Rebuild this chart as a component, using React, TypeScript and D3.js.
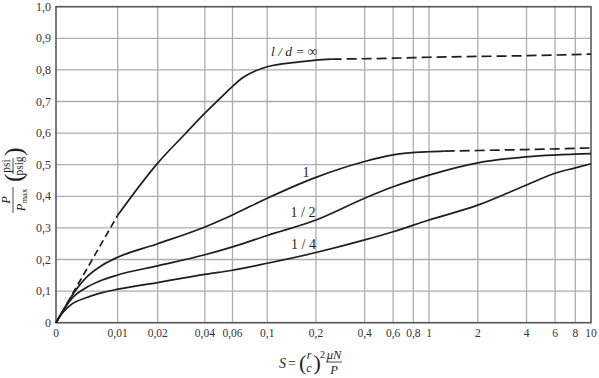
import React from "react";
import * as d3 from "d3";

// ---------- data ----------
const yTicks = [0, 0.1, 0.2, 0.3, 0.4, 0.5, 0.6, 0.7, 0.8, 0.9, 1.0];
const xTicks = [0, 0.01, 0.02, 0.04, 0.06, 0.1, 0.2, 0.4, 0.6, 0.8, 1, 2, 4, 6, 8, 10];

// l/d = infinity
const infDashStart: [number, number][] = [[0, 0], [0.005, 0.17], [0.01, 0.34]];
const infSolid: [number, number][] = [
  [0.01, 0.34], [0.02, 0.505], [0.03, 0.598], [0.04, 0.663], [0.05, 0.71], [0.06, 0.748],
  [0.07, 0.776], [0.083, 0.796], [0.1, 0.81], [0.15, 0.824], [0.2, 0.831], [0.25, 0.834],
];
const infDashEnd: [number, number][] = [[0.25, 0.834], [0.6, 0.837], [1, 0.84], [4, 0.845], [10, 0.85]];

// l/d = 1
const oneSolid: [number, number][] = [
  [0, 0], [0.001, 0.034], [0.0025, 0.083], [0.005, 0.145], [0.0075, 0.182], [0.01, 0.207],
  [0.02, 0.25], [0.04, 0.303], [0.06, 0.341], [0.1, 0.394], [0.2, 0.46], [0.4, 0.51],
  [0.6, 0.531], [1, 0.541], [1.25, 0.543],
];
const oneDash: [number, number][] = [[1.25, 0.543], [2, 0.545], [4, 0.548], [10, 0.553]];

// l/d = 1/2
const halfSolid: [number, number][] = [
  [0, 0], [0.001, 0.033], [0.0025, 0.075], [0.005, 0.112], [0.0075, 0.135], [0.01, 0.151],
  [0.02, 0.18], [0.04, 0.215], [0.06, 0.24], [0.1, 0.276], [0.2, 0.325], [0.4, 0.394],
  [0.6, 0.43], [1, 0.467], [2, 0.506], [4, 0.525], [10, 0.535],
];

// l/d = 1/4
const quarterSolid: [number, number][] = [
  [0, 0], [0.001, 0.03], [0.0025, 0.058], [0.005, 0.08], [0.0075, 0.095], [0.01, 0.106],
  [0.02, 0.127], [0.04, 0.153], [0.06, 0.166], [0.1, 0.188], [0.2, 0.222], [0.4, 0.262],
  [0.6, 0.288], [1, 0.325], [2, 0.372], [4, 0.436], [6, 0.473], [8, 0.49], [10, 0.503],
];

// ---------- layout ----------
const W = 599;
const H = 378;
const L = 56, R = 591, T = 6.7, B = 322.7;
const PW = R - L;
const logAnchors = [0.01, 0.02, 0.1, 1, 10];
const logAnchorFrac = [0.1153, 0.1901, 0.3949, 0.6972, 1];

const xLog = d3.scaleLog().domain(logAnchors).range(logAnchorFrac.map((f) => L + f * PW));
const xLin = d3.scaleLinear().domain([0, 0.01]).range([L, xLog(0.01)]);
const x = (v: number) => (v < 0.01 ? xLin(v) : xLog(v));
const y = d3.scaleLinear().domain([0, 1]).range([B, T]);

const line = d3
  .line<[number, number]>()
  .x((d) => x(d[0]))
  .y((d) => y(d[1]))
  .curve(d3.curveMonotoneX);

const fmt = (v: number) => (v === 0 ? "0" : String(v).replace(".", ","));
const fmtY = (v: number) => (v === 0 ? "0" : v.toFixed(1).replace(".", ","));

const SERIF = '"Liberation Serif", "DejaVu Serif", "Times New Roman", serif';
const INK = "#1e1e1e";

export default function App() {
  return (
    <svg width={W} height={H} style={{ position: "absolute", left: 0, top: 0, background: "#fff" }}>
      <style>{`text { font-family: ${SERIF}; }`}</style>
      <rect x={0} y={0} width={W} height={H} fill="#fff" />
      {/* grid */}
      {yTicks.map((t) => (
        <line key={"gy" + t} x1={L} x2={R} y1={y(t)} y2={y(t)} stroke="#adadad" strokeWidth={1.3} />
      ))}
      {xTicks.filter((t) => t > 0 && t < 10).map((t) => (
        <line key={"gx" + t} x1={x(t)} x2={x(t)} y1={T} y2={B} stroke="#adadad" strokeWidth={1.3} />
      ))}
      {/* frame */}
      <rect x={L} y={T} width={PW} height={B - T} fill="none" stroke="#5a5a5a" strokeWidth={1.6} />

      {/* y tick labels */}
      {yTicks.map((t) => (
        <text key={"ly" + t} x={51} y={y(t) + 4} textAnchor="end" fontSize={12} fill="#333">
          {fmtY(t)}
        </text>
      ))}
      {/* x tick labels */}
      {xTicks.map((t) => (
        <text key={"lx" + t} x={x(t)} y={337} textAnchor="middle" fontSize={11.5} fill="#333">
          {fmt(t)}
        </text>
      ))}

      {/* curves */}
      <g fill="none" stroke={INK} strokeWidth={1.7} strokeLinecap="butt">
        <path d={line(infDashStart) || ""} strokeDasharray="7,4" />
        <path d={line(infSolid) || ""} />
        <path d={line(infDashEnd) || ""} strokeDasharray="10,5" />
        <path d={line(oneSolid) || ""} />
        <path d={line(oneDash) || ""} strokeDasharray="10,5" />
        <path d={line(halfSolid) || ""} />
        <path d={line(quarterSolid) || ""} />
      </g>

      {/* curve labels */}
      <text x={271} y={56} fontSize={13.5} fontStyle="italic" fill={INK}>
        l / d = ∞
      </text>
      <text x={306} y={177} fontSize={14} textAnchor="middle" fill={INK}>1</text>
      <text x={303} y={216.5} fontSize={14} textAnchor="middle" fill={INK}>1 / 2</text>
      <text x={303.5} y={248.5} fontSize={14} textAnchor="middle" fill={INK}>1 / 4</text>

      {/* x axis title */}
      <g fill={INK}>
        <text x={279} y={368} fontSize={14} fontStyle="italic">S</text>
        <text x={288} y={368} fontSize={14}>=</text>
        <text x={299} y={370} fontSize={22}>(</text>
        <text x={309} y={359} fontSize={12} fontStyle="italic" textAnchor="middle">r</text>
        <text x={309} y={371.5} fontSize={12} fontStyle="italic" textAnchor="middle">c</text>
        <text x={313.5} y={370} fontSize={22}>)</text>
        <text x={320} y={358} fontSize={10}>2</text>
        <text x={334} y={359} fontSize={12.5} fontStyle="italic" textAnchor="middle">μN</text>
        <line x1={326} x2={342} y1={362} y2={362} stroke={INK} strokeWidth={0.8} />
        <text x={334} y={373.5} fontSize={12.5} fontStyle="italic" textAnchor="middle">P</text>
      </g>

      {/* y axis title */}
      <g transform="translate(13,181) rotate(-90)" fill={INK}>
        <text x={-19} y={-3} fontSize={12.5} fontStyle="italic" textAnchor="middle">P</text>
        <line x1={-32} x2={-6} y1={0} y2={0} stroke={INK} strokeWidth={0.8} />
        <text x={-19} y={11.5} fontSize={12.5} textAnchor="middle">
          <tspan fontStyle="italic">P</tspan>
          <tspan fontSize={8.5} dy={2}>max</tspan>
        </text>
        <text x={-1} y={8.5} fontSize={26}>(</text>
        <text x={15} y={-3} fontSize={11.5} textAnchor="middle">psi</text>
        <line x1={7} x2={23} y1={0} y2={0} stroke={INK} strokeWidth={0.8} />
        <text x={15} y={10} fontSize={11.5} textAnchor="middle">psig</text>
        <text x={25} y={8.5} fontSize={26}>)</text>
      </g>
    </svg>
  );
}
